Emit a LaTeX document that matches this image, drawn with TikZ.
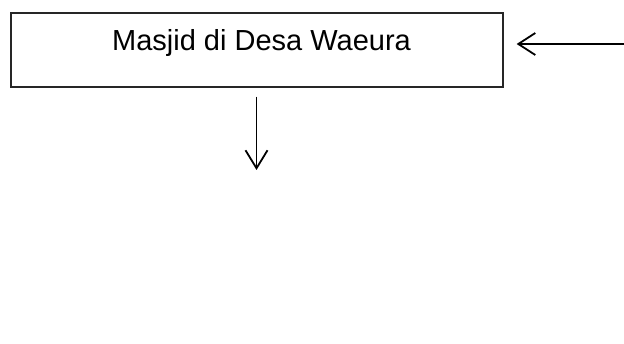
\documentclass[tikz,border=0pt]{standalone}
\usepackage{fontspec}
\setmainfont{Liberation Sans}
\usetikzlibrary{arrows.meta}
\begin{document}
\begin{tikzpicture}[x=1pt,y=-1pt,
  boxstyle/.style={draw=black!85,line width=1.3pt,minimum width=492pt,minimum height=74pt,inner sep=0pt},
  conn/.style={draw=black,line width=1.8pt,-{Straight Barb[length=17pt,width=22pt,line width=1.8pt]}},
  lbl/.style={inner sep=0pt,anchor=base,font=\fontsize{29pt}{34pt}\selectfont}]
\useasboundingbox (0,0) rectangle (624,344);
\node[boxstyle] (box) at (257,50) {};
\node[lbl] (txt) at (261.5,51) {Masjid di Desa Waeura};
\coordinate (src) at (624,44);
\coordinate (boxin) at (box.east |- src);
\draw[conn] (src) -- ([xshift=13pt]boxin);
\coordinate (dn) at (256.5,170);
\coordinate (boxout) at (box.south -| dn);
\draw[conn,-{Straight Barb[length=18pt,width=22pt,line width=1.8pt]}] ([yshift=-9pt]boxout) -- (dn);
\end{tikzpicture}
\end{document}
